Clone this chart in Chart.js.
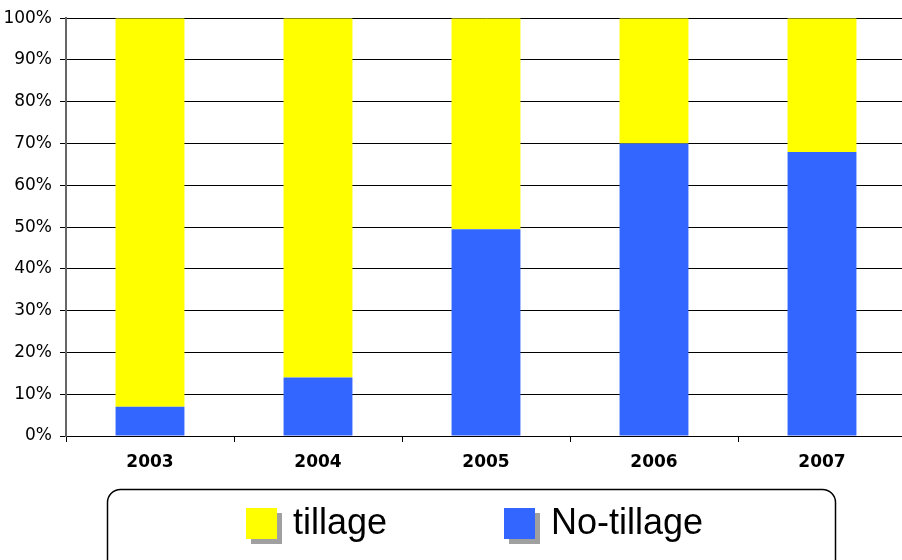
<!DOCTYPE html>
<html>
<head>
<meta charset="utf-8">
<script src="https://cdn.jsdelivr.net/npm/chart.js@4"></script>
<style>
  html, body { margin: 0; padding: 0; overflow: hidden; background: #fff; }
  #wrap { width: 906px; height: 560px; position: relative; }
</style>
</head>
<body>
<div id="wrap"><canvas id="myChart"></canvas></div>
<script>
const years = ['2003', '2004', '2005', '2006', '2007'];
const noTillage = [7, 14, 49.5, 70, 68];
const tillage = [93, 86, 50.5, 30, 32];
const yTicks = [0, 10, 20, 30, 40, 50, 60, 70, 80, 90, 100];

// boxed legend under the axis, drawn by hand
const boxLegend = {
  id: 'boxLegend',
  afterDraw(chart) {
    const ctx = chart.ctx;
    ctx.save();
    ctx.strokeStyle = '#000';
    ctx.lineWidth = 1.5;
    ctx.beginPath();
    ctx.roundRect(107.5, 489.5, 728, 90, 13);
    ctx.stroke();

    const items = [
      { ds: chart.data.datasets[1], x: 246 },
      { ds: chart.data.datasets[0], x: 504 }
    ];
    ctx.font = '36px "Liberation Sans", Arial, sans-serif';
    ctx.textBaseline = 'alphabetic';
    items.forEach(it => {
      ctx.fillStyle = '#a0a0a0';
      ctx.fillRect(it.x + 5, 513, 31, 31);
      ctx.fillStyle = it.ds.backgroundColor;
      ctx.fillRect(it.x, 508, 31, 31);
      ctx.fillStyle = '#000';
      ctx.fillText(it.ds.label, it.x + 47, 534);
    });
    ctx.restore();
  }
};

const data = {
  labels: years,
  datasets: [
    { label: 'No-tillage', data: noTillage, backgroundColor: '#3366FF' },
    { label: 'tillage', data: tillage, backgroundColor: '#FFFF00' }
  ]
};

const config = {
  type: 'bar',
  data: data,
  options: {
    responsive: true,
    maintainAspectRatio: false,
    animation: false,
    categoryPercentage: 1,
    barPercentage: 0.41,
    layout: { padding: { top: 16, right: 0, left: 0, bottom: 0 } },
    plugins: {
      legend: { display: false },
      tooltip: { enabled: false }
    },
    scales: {
      x: {
        stacked: true,
        afterFit: s => { s.height = 124; },
        grid: { drawOnChartArea: false, tickLength: 6, color: '#000', offset: true },
        border: { color: '#000', width: 1 },
        ticks: {
          color: '#000',
          padding: 10,
          font: { family: '"DejaVu Sans", Verdana, sans-serif', size: 17, weight: 'bold' }
        }
      },
      y: {
        stacked: true,
        min: 0,
        max: 100,
        afterFit: s => { s.width = 66; },
        afterBuildTicks: s => { s.ticks = yTicks.map(v => ({ value: v })); },
        grid: { color: '#000', lineWidth: 1, tickLength: 6 },
        border: { color: '#666', width: 2 },
        ticks: {
          color: '#000',
          padding: 8,
          callback: v => v + '%',
          font: { family: '"DejaVu Sans", Verdana, sans-serif', size: 17 }
        }
      }
    }
  },
  plugins: [boxLegend]
};

new Chart(document.getElementById('myChart'), config);
</script>
</body>
</html>
